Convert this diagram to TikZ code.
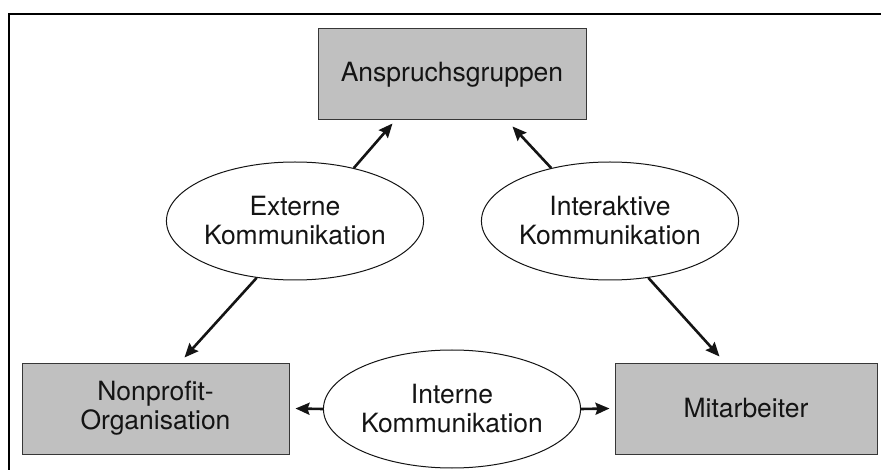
\documentclass[tikz,border=0pt]{standalone}
\usepackage{fontspec}
\setmainfont{TeX Gyre Heros}
\usetikzlibrary{shapes.geometric,arrows.meta,calc}
\definecolor{boxgray}{HTML}{C0C0C0}
\definecolor{ink}{HTML}{141414}
\begin{document}
\begin{tikzpicture}[x=1pt,y=-1pt,
  every node/.style={font=\fontsize{26.5}{29}\selectfont, text=ink, align=center, inner sep=0pt},
  party/.style={rectangle, draw=ink!85, line width=1pt, fill=boxgray},
  channel/.style={ellipse, draw=ink, line width=1pt, fill=white,
                  minimum width=234pt, minimum height=118pt},
  flow/.style={draw=ink, line width=2.6pt,
               -{Stealth[length=14pt,width=12pt,inset=2pt]}},
  frame/.style={draw=black, line width=2pt}]
\useasboundingbox (0,0) rectangle (881,470);

% open frame (top and left edges)
\draw[frame] (9,470) -- (9,14) -- (881,14);

% parties
\node[party, minimum width=268pt, minimum height=91pt] (anspruch) at (452,74.5) {Anspruchsgruppen};
\node[party, minimum width=267pt, minimum height=91pt] (npo) at (155.5,408.5) {Nonprofit-\\Organisation};
\node[party, minimum width=262pt, minimum height=91pt] (staff) at (746,408.5) {Mitarbeiter};

% communication channels
\node[channel] (ext) at (295,221) {Externe\\Kommunikation};
\node[channel] (inter) at (610,221) {Interaktive\\Kommunikation};
\node[channel] (int) at (452,409) {Interne\\Kommunikation};

% arrow targets just outside the boxes
\coordinate (tA1) at ($(anspruch.south west)+(75,3)$);
\coordinate (tA2) at ($(anspruch.south west)+(195,6)$);
\coordinate (tN1) at ($(npo.north west)+(163,-5)$);
\coordinate (tN2) at ($(npo.east)+(6,0)$);
\coordinate (tM1) at ($(staff.north west)+(105,-6)$);
\coordinate (tM2) at ($(staff.west)+(-5,0)$);

% flows
\draw[flow] (ext.42) -- (tA1);
\draw[flow] (ext.236) -- (tN1);
\draw[flow] (inter.138) -- (tA2);
\draw[flow] (inter.-56) -- (tM1);
\draw[flow] (int.west) -- (tN2);
\draw[flow] (int.east) -- (tM2);
\end{tikzpicture}
\end{document}
